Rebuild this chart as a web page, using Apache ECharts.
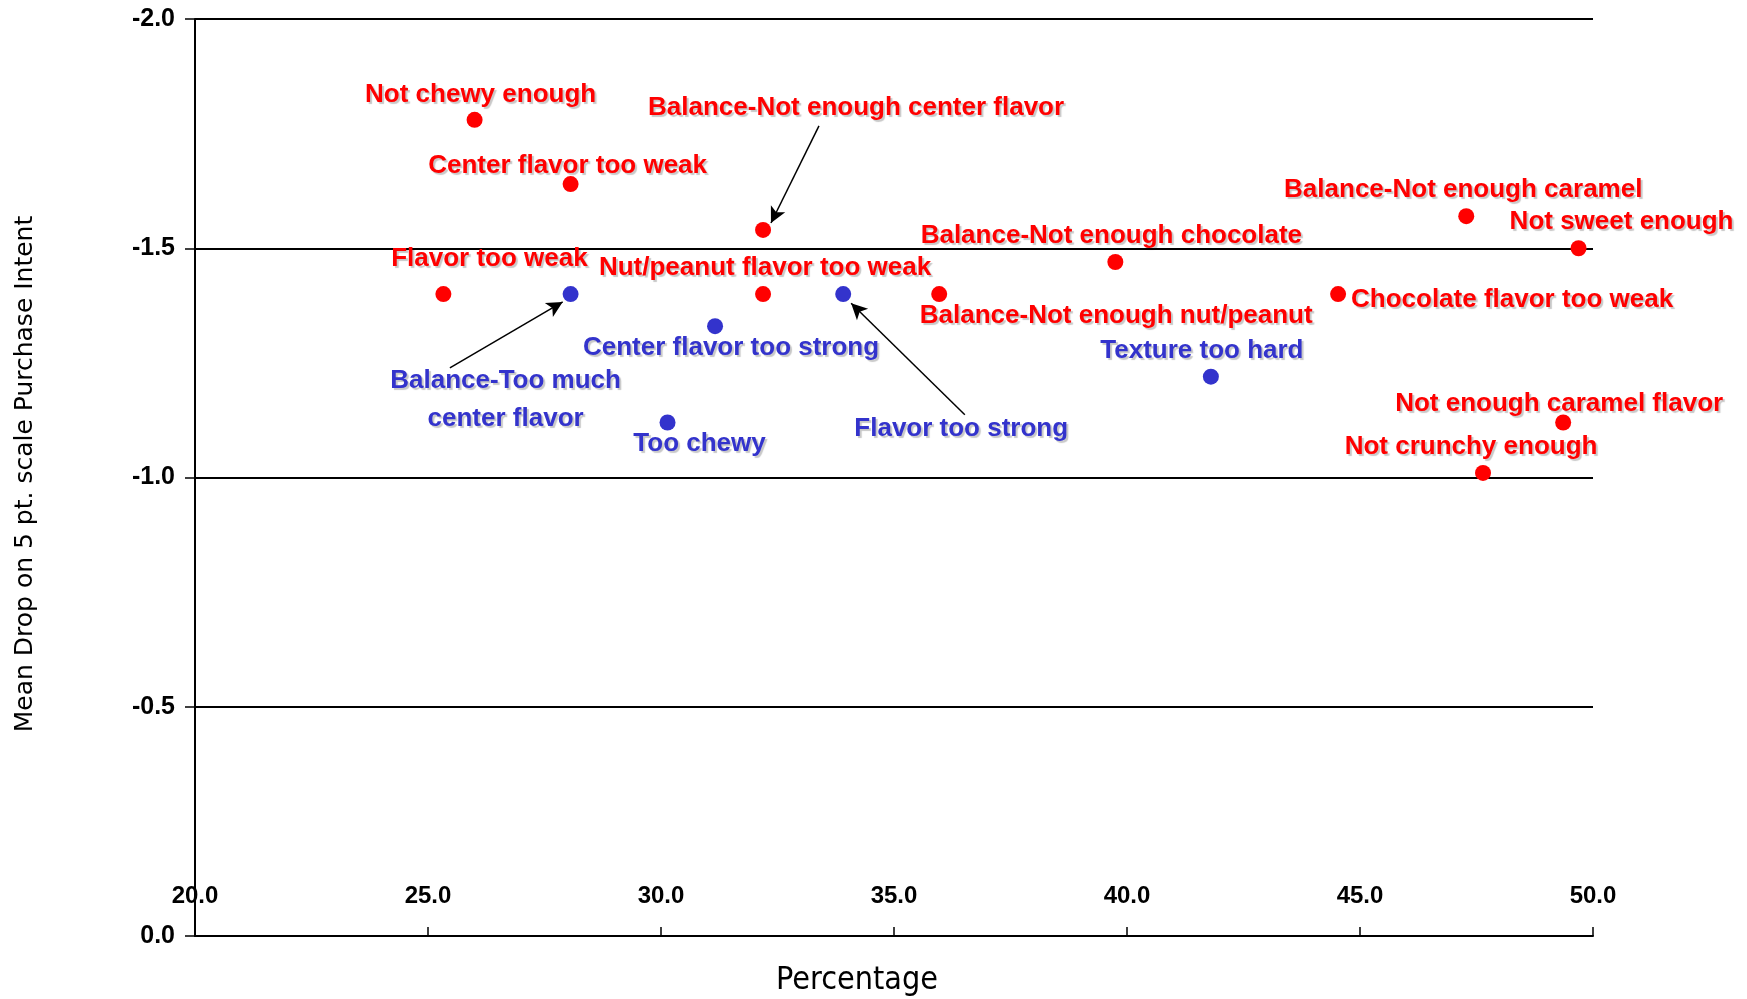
<!DOCTYPE html>
<html>
<head>
<meta charset="utf-8">
<script src="https://cdn.jsdelivr.net/npm/echarts@6/dist/echarts.min.js"></script>
<style>
html, body { margin: 0; padding: 0; background: #fff; }
#main { width: 1747px; height: 999px; }
</style>
</head>
<body>
<div id="main"></div>
<script>
// attribute data
var tooWeakNames = ['Not chewy enough', 'Center flavor too weak', 'Flavor too weak',
	'Balance-Not enough center flavor', 'Nut/peanut flavor too weak', 'Balance-Not enough nut/peanut',
	'Balance-Not enough chocolate', 'Chocolate flavor too weak', 'Balance-Not enough caramel',
	'Not sweet enough', 'Not enough caramel flavor', 'Not crunchy enough'];
var tooWeakPct = [26.0, 28.06, 25.33, 32.19, 32.19, 35.97, 39.75, 44.53, 47.28, 49.69, 49.36, 47.64];
var tooWeakDrop = [-1.78, -1.64, -1.40, -1.54, -1.40, -1.40, -1.47, -1.40, -1.57, -1.50, -1.12, -1.01];

var tooStrongNames = ['Balance-Too much\ncenter flavor', 'Center flavor too strong', 'Too chewy',
	'Flavor too strong', 'Texture too hard'];
var tooStrongPct = [28.06, 31.16, 30.14, 33.91, 41.80];
var tooStrongDrop = [-1.40, -1.33, -1.12, -1.40, -1.22];

var xTicks = [20, 25, 30, 35, 40, 45, 50];
var yTicks = [-2.0, -1.5, -1.0, -0.5, 0.0];

// label offsets (px from the dot)
var weakOffsets = [[6, -25], [-3, -18], [46, -35], [93, -122], [2, -26], [177, 22],
	[-4, -26], [174, 6], [-3, -26], [43, -26], [-4, -19], [-12, -26]];
var strongOffsets = [[-65, 106], [16, 22], [32, 21], [118, 135], [-9, -26]];

// arrows: [from, to] in data units
var arrows = [
	[[33.39, -1.767], [32.36, -1.555]],
	[[25.47, -1.239], [27.89, -1.383]],
	[[36.52, -1.137], [34.08, -1.380]]
];

var labelFont = '"Liberation Sans", Arial, sans-serif';

function buildPoints(names, xs, ys, offsets, color) {
	var pts = [];
	for (var i in names) {
		pts.push({
			name: names[i],
			value: [xs[i], ys[i]],
			label: {
				show: true,
				position: 'inside',
				offset: offsets[i],
				formatter: '{b}',
				color: color,
				fontFamily: labelFont,
				fontWeight: 'bold',
				fontSize: 26,
				lineHeight: 38,
				align: 'center',
				textShadowColor: 'rgba(0,0,0,0.22)',
				textShadowOffsetX: 2,
				textShadowOffsetY: 2,
				textShadowBlur: 1
			}
		});
	}
	return pts;
}

var arrowData = [];
for (var i in arrows) {
	arrowData.push([{ coord: arrows[i][0] }, { coord: arrows[i][1] }]);
}

var myChart = echarts.init(document.getElementById('main'));
var option = {
	animation: false,
	backgroundColor: '#fff',
	grid: { left: 195, right: 154, top: 19, bottom: 63, containLabel: false },
	xAxis: {
		type: 'value',
		min: xTicks[0],
		max: xTicks[xTicks.length - 1],
		interval: 5,
		axisLine: { onZero: false, lineStyle: { color: '#000', width: 2 } },
		axisTick: { show: true, inside: true, length: 9, lineStyle: { color: '#000', width: 1.5 } },
		axisLabel: {
			inside: true, margin: 28,
			color: '#000', fontWeight: 'bold', fontSize: 24,
			fontFamily: labelFont,
			formatter: function (v) { return v.toFixed(1); }
		},
		splitLine: { show: false }
	},
	yAxis: {
		type: 'value',
		min: yTicks[0],
		max: yTicks[yTicks.length - 1],
		interval: 0.5,
		inverse: true,
		axisLine: { show: true, lineStyle: { color: '#000', width: 2 } },
		axisTick: { show: true, length: 10, lineStyle: { color: '#000', width: 1.5 } },
		axisLabel: {
			margin: 20,
			color: '#000', fontWeight: 'bold', fontSize: 25,
			fontFamily: labelFont,
			formatter: function (v) { return v.toFixed(1); }
		},
		splitLine: { show: true, lineStyle: { color: '#000', width: 2 } }
	},
	graphic: [
		{
			type: 'text',
			x: 25, y: 474,
			rotation: Math.PI / 2,
			style: {
				text: 'Mean Drop on 5 pt. scale Purchase Intent',
				font: '25px "DejaVu Sans", Verdana, sans-serif',
				fill: '#000',
				align: 'center',
				verticalAlign: 'middle'
			}
		},
		{
			type: 'text',
			x: 857, y: 981,
			style: {
				text: 'Percentage',
				font: '32px "DejaVu Sans Condensed", "DejaVu Sans", sans-serif',
				fill: '#000',
				align: 'center',
				verticalAlign: 'middle'
			}
		}
	],
	series: [
		{
			name: 'Too weak',
			type: 'scatter',
			symbolSize: 16,
			itemStyle: { color: '#ff0000', opacity: 1 },
			data: buildPoints(tooWeakNames, tooWeakPct, tooWeakDrop, weakOffsets, '#ff0000'),
			markLine: {
				silent: true,
				symbol: ['none', 'arrow'],
				symbolSize: [12, 16],
				label: { show: false },
				lineStyle: { color: '#000', width: 1.5, type: 'solid', opacity: 1 },
				data: arrowData
			},
			z: 3
		},
		{
			name: 'Too strong',
			type: 'scatter',
			symbolSize: 16,
			itemStyle: { color: '#3333cc', opacity: 1 },
			data: buildPoints(tooStrongNames, tooStrongPct, tooStrongDrop, strongOffsets, '#3333cc'),
			z: 3
		}
	]
};
myChart.setOption(option);
</script>
</body>
</html>
